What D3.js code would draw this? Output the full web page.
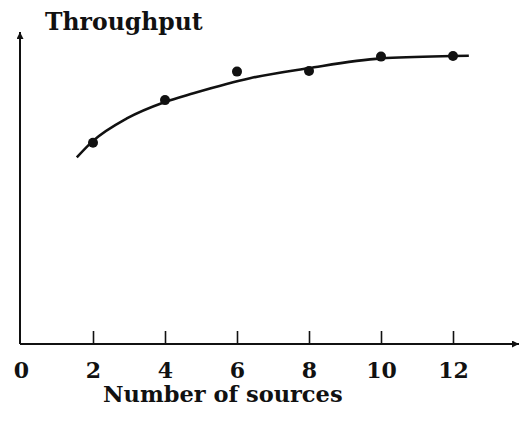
<!DOCTYPE html>
<html>
<head>
<meta charset="utf-8">
<script src="https://cdn.jsdelivr.net/npm/d3@7"></script>
<style>
  body { margin: 0; background: #fff; }
  text { font-family: "DejaVu Serif", serif; font-weight: bold; fill: #111; }
</style>
</head>
<body>
<svg width="520" height="425"></svg>
<script>
// measured sources -> throughput (arbitrary units, no y ticks in original)
var sources = [2, 4, 6, 8, 10, 12];
var throughput = [67.1, 81.3, 90.8, 91.0, 95.8, 96.0];

// fitted curve
var curveX = [1.55, 2.0, 2.94, 3.98, 4.79, 5.71, 6.36, 7.97, 10.0, 12.0, 12.44];
var curveY = [62.2, 67.7, 75.2, 80.6, 83.6, 86.7, 88.6, 91.9, 95.2, 96.0, 96.1];

var xTicks = [0, 2, 4, 6, 8, 10, 12];

var svg = d3.select("svg");

var x = d3.scaleLinear().domain([0, 12]).range([21, 453]),
    y = d3.scaleLinear().domain([0, 100]).range([344, 44]);

var defs = svg.append("defs");
defs.append("marker")
    .attr("id", "arrow")
    .attr("viewBox", "0 0 10 10")
    .attr("refX", 10).attr("refY", 5)
    .attr("markerWidth", 11).attr("markerHeight", 7)
    .attr("markerUnits", "userSpaceOnUse")
    .attr("orient", "auto")
  .append("path")
    .attr("d", "M0,0L10,5L0,10Z")
    .attr("fill", "#111");

// axes with arrow heads
svg.append("line")
    .attr("x1", 20).attr("y1", y(0))
    .attr("x2", 20).attr("y2", 32)
    .attr("stroke", "#111").attr("stroke-width", 2)
    .attr("marker-end", "url(#arrow)");

svg.append("line")
    .attr("x1", 20).attr("y1", y(0))
    .attr("x2", 519).attr("y2", y(0))
    .attr("stroke", "#111").attr("stroke-width", 2)
    .attr("marker-end", "url(#arrow)");

var xAxis = svg.append("g")
    .attr("transform", "translate(0," + y(0) + ")")
    .call(d3.axisBottom(x).tickValues(xTicks).tickSizeInner(-13).tickSizeOuter(0).tickPadding(0));

xAxis.select(".domain").remove();
xAxis.selectAll(".tick line")
    .attr("stroke", "#111").attr("stroke-width", 1.6)
    .filter(function(d) { return d === 0; }).remove();
xAxis.selectAll(".tick text")
    .attr("y", 34).attr("dy", 0)
    .style("font-family", "DejaVu Serif, serif")
    .style("font-weight", "bold")
    .style("font-size", "22px")
    .attr("fill", "#111");

// curve
var line = d3.line()
    .curve(d3.curveMonotoneX)
    .x(function(d) { return x(d[0]); })
    .y(function(d) { return y(d[1]); });

svg.append("path")
    .datum(d3.zip(curveX, curveY))
    .attr("d", line)
    .attr("fill", "none")
    .attr("stroke", "#111")
    .attr("stroke-width", 2.6);

// points
svg.selectAll(".pt")
    .data(d3.zip(sources, throughput))
  .enter().append("circle")
    .attr("class", "pt")
    .attr("cx", function(d) { return x(d[0]); })
    .attr("cy", function(d) { return y(d[1]); })
    .attr("r", 5)
    .attr("fill", "#111");

// labels
svg.append("text")
    .attr("x", 45).attr("y", 30)
    .style("font-size", "23.5px")
    .text("Throughput");

svg.append("text")
    .attr("x", 103).attr("y", 402)
    .style("font-size", "22.5px")
    .text("Number of sources");
</script>
</body>
</html>
